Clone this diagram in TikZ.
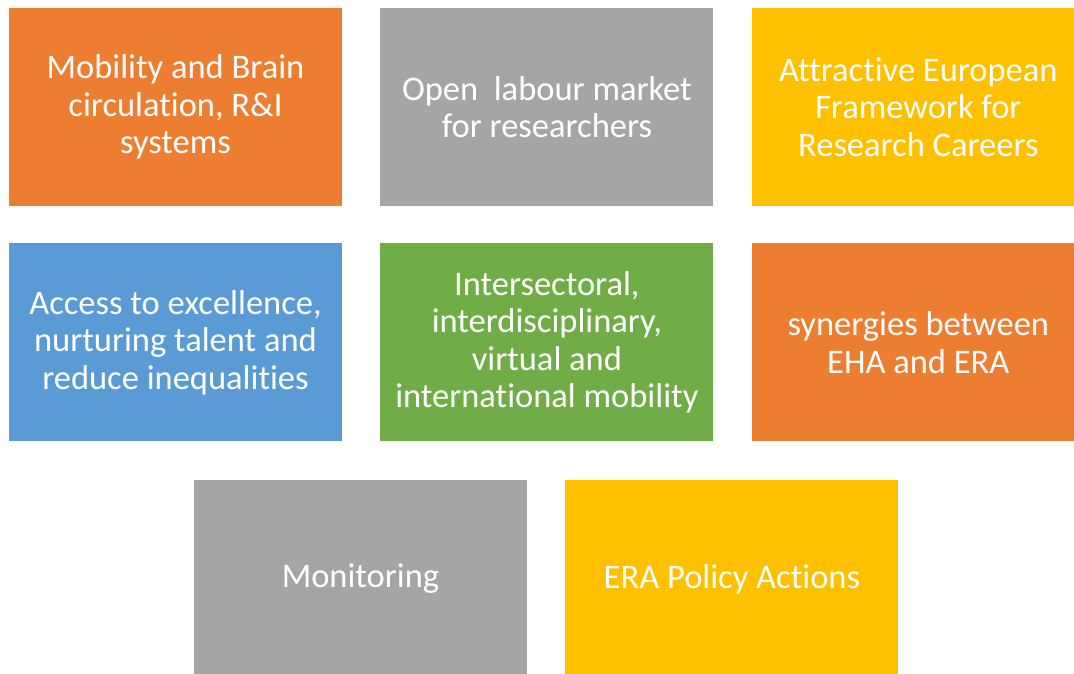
\documentclass[tikz,border=0pt]{standalone}
\usepackage{fontspec}
\setmainfont{Carlito}[RawFeature={-liga;-clig;-dlig;-calt}]
\usetikzlibrary{positioning}

\definecolor{eraorange}{RGB}{237,125,49}
\definecolor{eragray}{RGB}{165,165,165}
\definecolor{erayellow}{RGB}{255,192,0}
\definecolor{erablue}{RGB}{91,155,213}
\definecolor{eragreen}{RGB}{112,173,71}

\begin{document}
\begin{tikzpicture}[x=1pt,y=1pt,yscale=-1,
	action/.style={minimum width=333pt,minimum height=198pt,inner sep=0pt,
		align=center,text=white,font=\fontsize{34.5}{37.5}\selectfont},
	node distance=37pt and 38pt]
	\useasboundingbox (0,0) rectangle (1074,673);

	% first row
	\node [action,fill=eraorange] (mobility) at (175.5,107) {Mobility and Brain\\circulation, R\&I\\systems};
	\node [action,fill=eragray,right=of mobility] (labour) {Open~ labour market\\for researchers};
	\node [action,fill=erayellow,right=of labour] (careers) {Attractive European\\Framework for\\Research Careers};

	% second row
	\node [action,fill=erablue,below=of mobility] (access) {Access to excellence,\\nurturing talent and\\reduce inequalities};
	\node [action,fill=eragreen,right=of access] (intersect) {Intersectoral,\\interdisciplinary,\\virtual and\\international mobility};
	\node [action,fill=eraorange,right=of intersect] (synergies) {synergies between\\EHA and ERA};

	% last row
	\node [action,fill=eragray] (monitoring) at (360.5,579) {Monitoring};
	\node [action,fill=erayellow,right=of monitoring] (policy) {ERA Policy Actions};

\end{tikzpicture}
\end{document}
